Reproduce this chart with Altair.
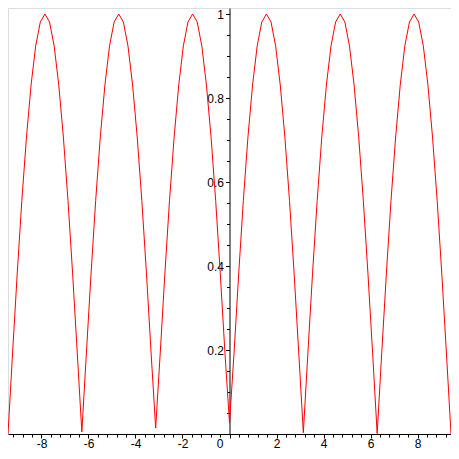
import altair as alt
import pandas as pd

# Curve samples
xs = [-9.425, -9.228, -9.032, -8.836, -8.639, -8.443, -8.247, -8.050, -7.854, -7.658,
      -7.461, -7.265, -7.069, -6.872, -6.676, -6.480, -6.283, -6.087, -5.890, -5.694,
      -5.498, -5.301, -5.105, -4.909, -4.712, -4.516, -4.320, -4.123, -3.927, -3.731,
      -3.534, -3.338, -3.142, -2.945, -2.749, -2.553, -2.356, -2.160, -1.963, -1.767,
      -1.571, -1.374, -1.178, -0.982, -0.785, -0.589, -0.393, -0.196, 0.0,
      0.196, 0.393, 0.589, 0.785, 0.982, 1.178, 1.374, 1.571, 1.767, 1.963,
      2.160, 2.356, 2.553, 2.749, 2.945, 3.142, 3.338, 3.534, 3.731, 3.927,
      4.123, 4.320, 4.516, 4.712, 4.909, 5.105, 5.301, 5.498, 5.694, 5.890,
      6.087, 6.283, 6.480, 6.676, 6.872, 7.069, 7.265, 7.461, 7.658, 7.854,
      8.050, 8.247, 8.443, 8.639, 8.836, 9.032, 9.228, 9.425]
ys = [0.0,
      0.195, 0.383, 0.556, 0.707, 0.831, 0.924, 0.981, 1.0, 0.981, 0.924, 0.831, 0.707, 0.556, 0.383, 0.195,
      0.005,
      0.195, 0.383, 0.556, 0.707, 0.831, 0.924, 0.981, 1.0, 0.981, 0.924, 0.831, 0.707, 0.556, 0.383, 0.195,
      0.014,
      0.195, 0.383, 0.556, 0.707, 0.831, 0.924, 0.981, 1.0, 0.981, 0.924, 0.831, 0.707, 0.556, 0.383, 0.195,
      0.026,
      0.195, 0.383, 0.556, 0.707, 0.831, 0.924, 0.981, 1.0, 0.981, 0.924, 0.831, 0.707, 0.556, 0.383, 0.195,
      0.003,
      0.195, 0.383, 0.556, 0.707, 0.831, 0.924, 0.981, 1.0, 0.981, 0.924, 0.831, 0.707, 0.556, 0.383, 0.195,
      0.001,
      0.195, 0.383, 0.556, 0.707, 0.831, 0.924, 0.981, 1.0, 0.981, 0.924, 0.831, 0.707, 0.556, 0.383, 0.195,
      0.0]

# Tick values
x_ticks = [-9.2, -8.8, -8.4, -8, -7.6, -7.2, -6.8, -6.4, -6, -5.6, -5.2, -4.8, -4.4, -4,
           -3.6, -3.2, -2.8, -2.4, -2, -1.6, -1.2, -0.8, -0.4, 0, 0.4, 0.8, 1.2, 1.6, 2,
           2.4, 2.8, 3.2, 3.6, 4, 4.4, 4.8, 5.2, 5.6, 6, 6.4, 6.8, 7.2, 7.6, 8, 8.4, 8.8, 9.2]
y_ticks = [0.05, 0.1, 0.15, 0.2, 0.25, 0.3, 0.35, 0.4, 0.45, 0.5, 0.55, 0.6, 0.65,
           0.7, 0.75, 0.8, 0.85, 0.9, 0.95, 1.0]

df = pd.DataFrame({"x": xs, "y": ys})

x_major = "abs(datum.value - round(datum.value / 2) * 2) < 0.001"
y_major = "abs(datum.value * 5 - round(datum.value * 5)) < 0.001"

chart = alt.Chart(df).mark_line(color="#ff0000", strokeWidth=1).encode(
    x=alt.X("x:Q", scale=alt.Scale(domain=[-9.425, 9.425], nice=False, zero=False),
            axis=alt.Axis(values=x_ticks, title=None, grid=False, domainColor="black",
                          tickColor="black", labelColor="black",
                          labelFont="Liberation Sans", labelFontSize=12,
                          labelOverlap=False, labelPadding=9, labelBaseline="alphabetic",
                          labelExpr=f"({x_major}) ? '' + datum.value : ''",
                          tickSize={"condition": {"test": x_major, "value": 4}, "value": 3},
                          labelOffset={"condition": {"test": "abs(datum.value) < 0.001", "value": -10}, "value": 0})),
    y=alt.Y("y:Q", scale=alt.Scale(domain=[0, 1.0143], nice=False),
            axis=alt.Axis(values=y_ticks, title=None, grid=False, domainColor="black",
                          tickColor="black", labelColor="black", offset=-221.5,
                          labelFont="Liberation Sans", labelFontSize=12,
                          labelOverlap=False, labelPadding=2,
                          labelExpr=f"({y_major}) ? '' + datum.value : ''",
                          tickSize={"condition": {"test": y_major, "value": 4}, "value": 3})),
).properties(
    width=443, height=426,
    autosize=alt.AutoSizeParams(type="none"),
    padding={"left": 0, "top": 0, "right": 0, "bottom": 17},
).configure_view(stroke=None).configure(background="white")

chart.save("out.html", embed_options={"renderer": "svg", "actions": False})
